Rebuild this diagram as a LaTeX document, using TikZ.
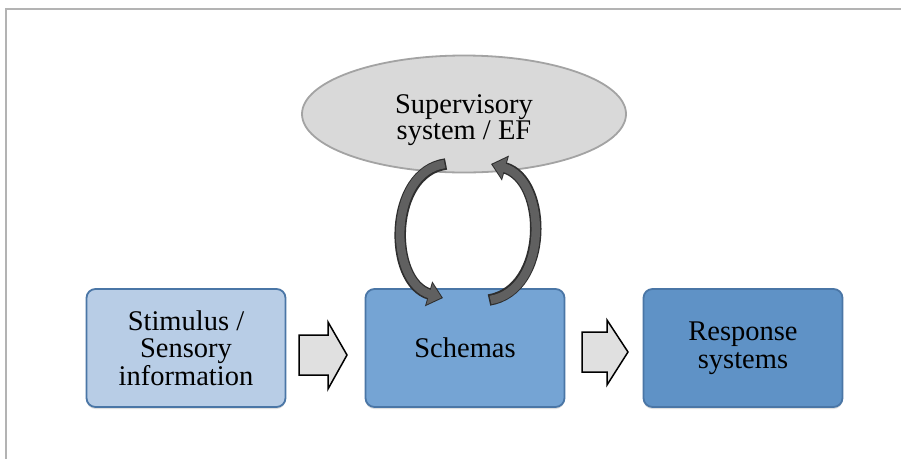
\documentclass[tikz,border=0pt]{standalone}
\usepackage{fontspec}
\setmainfont{Liberation Serif}
\usetikzlibrary{arrows.meta,shapes.geometric,shadows}
\definecolor{framegray}{HTML}{B3B3B3}
\definecolor{boxborder}{HTML}{4A76A6}
\definecolor{stimfill}{HTML}{B8CDE6}
\definecolor{schemfill}{HTML}{75A4D4}
\definecolor{respfill}{HTML}{5F92C6}
\definecolor{ellfill}{HTML}{D9D9D9}
\definecolor{ellborder}{HTML}{A3A3A3}
\definecolor{loopdark}{HTML}{2E2E2E}
\definecolor{loopfill}{HTML}{606060}
\definecolor{blockfill}{HTML}{E0E0E0}
\tikzset{
  txt/.style={font=\fontsize{28.5}{27.5}\selectfont, align=center, text=black},
  boxnode/.style={txt, rectangle, rounded corners=9pt, draw=boxborder, line width=1.8pt,
    minimum width=199pt, minimum height=118pt,
    drop shadow={shadow xshift=0pt, shadow yshift=-2pt, opacity=0.25}},
  blockarrow/.style={draw=black, line width=1.5pt, fill=blockfill, line join=miter},
  loopout/.style={draw=loopdark, line width=11.5pt, -{Triangle[length=15pt,width=25pt]}},
  loopin/.style={draw=loopfill, line width=8.5pt, shorten >=1.6pt, -{Triangle[length=12.5pt,width=21pt]}}
}
\begin{document}
\begin{tikzpicture}[x=1pt,y=-1pt]
\useasboundingbox (0,0) rectangle (901,459);
\fill[white] (0,0) rectangle (901,459);
\draw[framegray, line width=2pt] (901,9) -- (6,9) -- (6,459);

\node[ellipse, draw=ellborder, fill=ellfill, line width=1.8pt, minimum width=324pt,
  minimum height=117pt] (sup) at (464,114) {};
\node[txt, font=\fontsize{28.5}{24}\selectfont] (suptext) at ([yshift=-6pt]sup.center)
  {Supervisory\\system / EF};

\node[boxnode, fill=stimfill] (stim) at (186,348) {Stimulus /\\Sensory\\information};
\node[boxnode, fill=schemfill] (schem) at (465,348) {Schemas};
\node[boxnode, fill=respfill] (resp) at (743,348) {Response\\systems};

% block arrows
\coordinate (b1) at (299,355);
\draw[blockarrow] (b1) ++(0,-20) -- ++(29,0) -- ++(0,-13) -- ++(19,33) -- ++(-19,34) -- ++(0,-14) -- ++(-29,0) -- cycle;
\coordinate (b2) at (582,352);
\draw[blockarrow] (b2) ++(0,-20) -- ++(25,0) -- ++(0,-12) -- ++(21,32) -- ++(-21,33) -- ++(0,-13) -- ++(-25,0) -- cycle;

% loop arrows
\coordinate (l0) at (446,164);
\coordinate (l1) at (443,298);
\coordinate (r0) at (489,300);
\coordinate (r1) at (491,164);
\draw[loopout] (l0) .. controls (388,172) and (388,282) .. (l1);
\draw[loopin] ([xshift=-1.5pt]l0) .. controls (388,172) and (388,282) .. (l1);
\draw[loopout] (r0) .. controls (549,290) and (548,180) .. (r1);
\draw[loopin] ([xshift=1.5pt]r0) .. controls (549,290) and (548,180) .. (r1);
\end{tikzpicture}
\end{document}
